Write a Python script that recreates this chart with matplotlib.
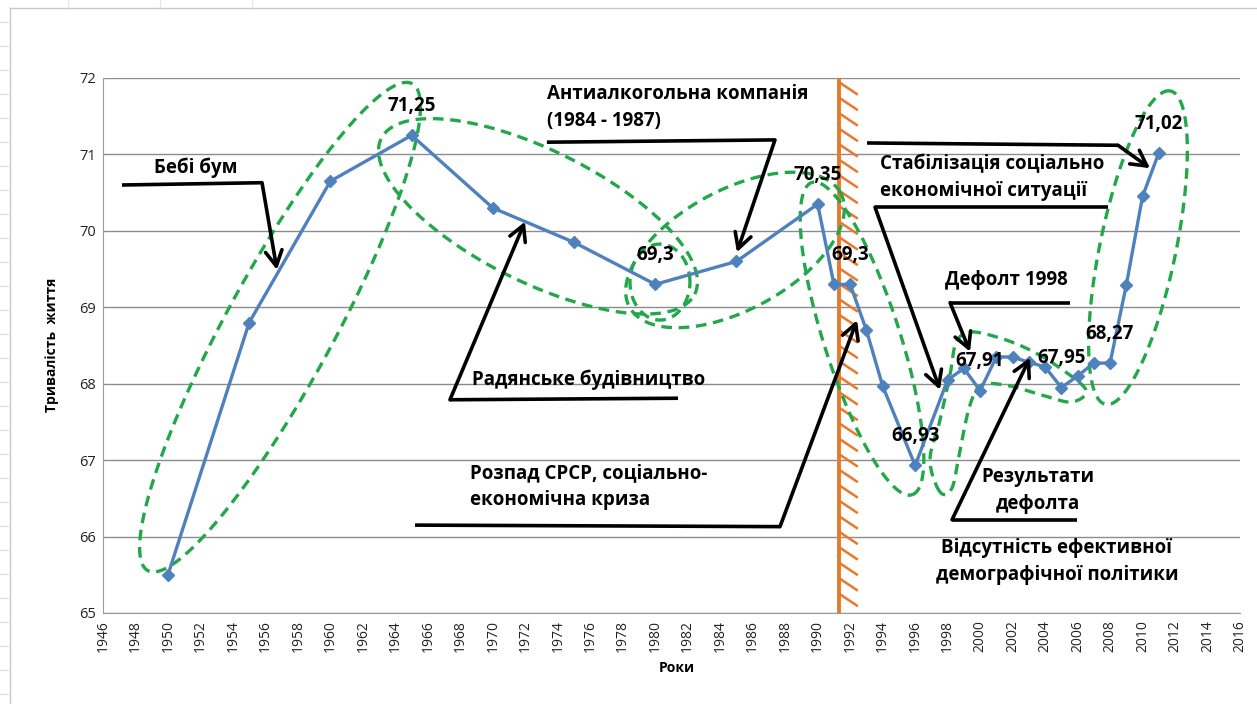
import numpy as np
import matplotlib.pyplot as plt
from matplotlib.lines import Line2D

# life expectancy, Ukraine
years = [1950, 1955, 1960, 1965, 1970, 1975, 1980, 1985, 1990, 1991, 1992, 1993, 1994,
         1996, 1998, 1999, 2000, 2001, 2002, 2003, 2004, 2005, 2006, 2007, 2008, 2009,
         2010, 2011]
life = [65.5, 68.8, 70.65, 71.25, 70.3, 69.85, 69.3, 69.6, 70.35, 69.3, 69.3, 68.7, 67.97,
        66.93, 68.05, 68.2, 67.91, 68.35, 68.35, 68.28, 68.22, 67.95, 68.1, 68.27, 68.27,
        69.29, 70.45, 71.02]
label_years = [1965, 1980, 1990, 1992, 1996, 2000, 2005, 2008, 2011]
x_ticks = list(range(1946, 2017, 2))
y_ticks = list(range(65, 73))

plt.rcParams['font.family'] = ['Open Sans', 'DejaVu Sans']

W, H = 1257, 704
fig = plt.figure(figsize=(W / 100, H / 100), dpi=100)
ax = fig.add_axes([103 / W, 1 - 613 / H, 1137 / W, 535 / H])
ax.set_xlim(1946, 2016)
ax.set_ylim(65, 72)

# excel sheet frame
fig.add_artist(Line2D([10 / W, 10 / W], [0, 1 - 8 / H], color='#c8c8c8', lw=1))
fig.add_artist(Line2D([10 / W, 1], [1 - 8 / H, 1 - 8 / H], color='#c8c8c8', lw=1))
for yy in range(22, H, 24):
    fig.add_artist(Line2D([0, 8 / W], [1 - yy / H] * 2, color='#dddddd', lw=0.8))
for xx in [68, 160, 252]:
    fig.add_artist(Line2D([xx / W] * 2, [1 - 7 / H, 1], color='#e4e4e4', lw=0.8))

ax.set_xticks(x_ticks)
ax.set_xticklabels([str(t) for t in x_ticks], rotation=90, fontsize=10)
ax.set_yticks(y_ticks)
ax.set_yticklabels([str(t) for t in y_ticks], fontsize=10.5)
ax.tick_params(length=0, pad=5, colors='#222222')
ax.grid(axis='y', color='#8c8c8c', lw=1)
ax.set_axisbelow(True)
for s in ['top', 'right']:
    ax.spines[s].set_visible(False)
for s in ['left', 'bottom']:
    ax.spines[s].set_color('#9a9a9a')

fig.text(52 / W, 1 - 345 / H, 'Тривалість  життя', rotation=90, ha='center', va='center',
         fontsize=10, fontweight='bold')
fig.text(677 / W, 1 - 668 / H, 'Роки', ha='center', va='center', fontsize=10, fontweight='bold')


# orange border line with hatching (1991)
split_year = 1991.3
ax.axvline(split_year, color='#E8792B', lw=2.8, zorder=3)
sx = ax.transData.transform((split_year, 65))[0]
for py in np.arange(82, 606, 15.5):
    p0 = ax.transData.inverted().transform((sx, H - py))
    p1 = ax.transData.inverted().transform((sx + 18, H - py - 12))
    ax.plot([p0[0], p1[0]], [p0[1], p1[1]], color='#E8792B', lw=1.8, zorder=3)

# data line
ax.plot(years, life, color='#4F81BD', lw=2.4, marker='D', ms=6.5, zorder=5)
for y, v in zip(years, life):
    if y in label_years:
        ax.annotate(f'{v:g}'.replace('.', ','), (y, v), xytext=(0, 21), textcoords='offset points',
                    ha='center', va='center', fontsize=13.5, fontweight='bold', zorder=6)

green = '#22A84A'


def dashed_ellipse(cx, cy, a, b, ang):
    c = ax.transData.transform((cx, cy))
    t = np.linspace(0, 2 * np.pi, 300)
    r = np.deg2rad(ang)
    ex = a * np.cos(t)
    ey = b * np.sin(t)
    px = c[0] + ex * np.cos(r) - ey * np.sin(r)
    py = c[1] + ex * np.sin(r) + ey * np.cos(r)
    pts = ax.transData.inverted().transform(np.column_stack([px, py]))
    ax.plot(pts[:, 0], pts[:, 1], color=green, lw=2.4, dashes=(3.2, 2.0), zorder=4)


def dashed_blob(pts_px):
    p = np.array(pts_px, float)
    n = len(p)
    out = []
    for i in range(n):
        p0, p1, p2, p3 = p[i - 1], p[i], p[(i + 1) % n], p[(i + 2) % n]
        for t in np.linspace(0, 1, 20, endpoint=False):
            t2, t3 = t * t, t * t * t
            out.append(0.5 * (2 * p1 + (-p0 + p2) * t + (2 * p0 - 5 * p1 + 4 * p2 - p3) * t2
                              + (-p0 + 3 * p1 - 3 * p2 + p3) * t3))
    out.append(out[0])
    out = np.array(out)
    out[:, 1] = H - out[:, 1]
    d = ax.transData.inverted().transform(out)
    ax.plot(d[:, 0], d[:, 1], color=green, lw=2.4, dashes=(3.2, 2.0), zorder=4)


dashed_ellipse(1956.9, 68.74, 277, 54, 61.5)    # baby boom
dashed_ellipse(1972.78, 70.19, 175, 66, -26.4)  # soviet
dashed_ellipse(1980.29, 69.33, 30, 38, 0)
dashed_ellipse(1984.91, 69.75, 120, 60, 28.4)   # antialcohol
dashed_ellipse(1992.73, 68.59, 164, 38, -72.2)  # collapse
dashed_ellipse(2009.72, 69.78, 160, 38, 78.3)   # stabilisation
dashed_blob([(940, 492), (930, 460), (940, 420), (950, 375), (956, 343), (970, 332),
             (1000, 338), (1030, 350), (1060, 368), (1086, 390), (1072, 402), (1045, 396),
             (1010, 386), (982, 385), (970, 405), (960, 450), (952, 488)])

# callouts
def callout(path, lw=2.6):
    xs = [p[0] for p in path]
    ys = [p[1] for p in path]
    ax.plot(xs[:-1], ys[:-1], color='k', lw=lw, solid_capstyle='butt', zorder=7)
    ax.annotate('', xy=path[-1], xytext=path[-2], zorder=7,
                arrowprops=dict(arrowstyle='->,head_length=0.55,head_width=0.3', color='k',
                                lw=lw, shrinkA=0, shrinkB=0, mutation_scale=20))


txt = dict(fontsize=13.5, fontweight='bold', zorder=8)
ax.text(1951.73, 70.82, 'Бебі бум', ha='center', va='center', **txt)
callout([(1947.17, 70.60), (1955.79, 70.63), (1956.71, 69.49)])

ax.text(1975.92, 68.05, 'Радянське будівництво', ha='center', va='center', **txt)
callout([(1981.40, 67.81), (1967.36, 67.79), (1971.98, 70.12)])

ax.text(1973.33, 71.61, 'Антиалкогольна компанія\n(1984 - 1987)', ha='left', va='center',
        linespacing=1.45, **txt)
callout([(1973.33, 71.16), (1987.37, 71.19), (1985.03, 69.72)])

ax.text(1993.84, 70.70, 'Стабілізація соціально\nекономічної ситуації', ha='left', va='center',
        linespacing=1.45, **txt)
callout([(1993.04, 71.15), (2008.49, 71.12), (2010.46, 70.82)])
callout([(2007.87, 70.31), (1993.53, 70.31), (1997.53, 67.92)])

ax.text(2001.59, 69.36, 'Дефолт 1998', ha='center', va='center', **txt)
callout([(2005.53, 69.06), (1998.15, 69.06), (1999.38, 68.42)])

ax.text(1968.6, 66.65, 'Розпад СРСР, соціально-\nекономічна криза', ha='left', va='center',
        linespacing=1.45, **txt)
callout([(1965.21, 66.15), (1987.68, 66.13), (1992.42, 68.83)])

ax.text(2003.56, 66.60, 'Результати\nдефолта', ha='center', va='center', linespacing=1.45, **txt)
callout([(2005.96, 66.22), (1998.27, 66.22), (2003.07, 68.34)])

ax.text(2004.73, 65.67, 'Відсутність ефективної\nдемографічної політики', ha='center',
        va='center', linespacing=1.45, **txt)

fig.savefig('out.png', dpi=100)
